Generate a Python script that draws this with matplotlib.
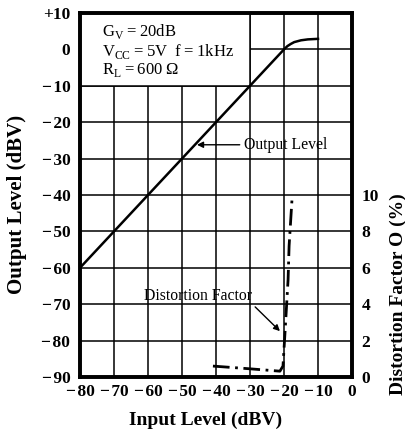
import numpy as np
import matplotlib.pyplot as plt
from matplotlib.patches import Rectangle

plt.rcParams["font.family"] = ["Liberation Serif", "DejaVu Serif"]

# output level curve (dBV)
out_in = [-80, -20, -19, -18, -17, -15, -13, -10]
out_lvl = [-60, 0, 0.9, 1.5, 2.0, 2.5, 2.75, 2.9]

# distortion factor curve (%)
thd_in = [-40.9, -30, -21.2, -20.3, -19.7, -18.8, -18.5, -17.6]
thd_pct = [0.6, 0.45, 0.32, 0.6, 2.46, 5.35, 7.2, 9.9]

x_ticks = [-80, -70, -60, -50, -40, -30, -20, -10, 0]
y_ticks = [10, 0, -10, -20, -30, -40, -50, -60, -70, -80, -90]
r_ticks = [0, 2, 4, 6, 8, 10]


def lab(v):
    if v > 0:
        return f"+{v}"
    if v < 0:
        return f"\u2212\u200a{-v}"
    return "0"


fig = plt.figure(figsize=(4.06, 4.36), dpi=100)
ax = fig.add_axes([80 / 406, 1 - 377 / 436, 272 / 406, 364 / 436])

ax.set_xlim(-80, 0)
ax.set_ylim(-90, 10)
ax.set_xticks(x_ticks)
ax.set_xticklabels([lab(v) for v in x_ticks], fontsize=12.5, fontweight="bold")
ax.set_yticks(y_ticks)
ax.set_yticklabels([lab(v) for v in y_ticks], fontsize=12.5, fontweight="bold")
ax.tick_params(axis="x", length=0, pad=5)
ax.tick_params(axis="y", length=0, pad=7)
ax.grid(True, color="black", linewidth=1.1)
ax.set_axisbelow(True)
for sp in ax.spines.values():
    sp.set_linewidth(2.6)

# blank area for the conditions box
ax.add_patch(Rectangle((-80, -10), 50, 20, facecolor="white", edgecolor="none", zorder=1))
ax.plot([-30, -30], [-10, 10], color="black", linewidth=1.1, zorder=1.2)
ax.plot([-80, -30], [-10, -10], color="black", linewidth=1.1, zorder=1.2)

eq = "\u2009=\u2009"
ax.text(-73.5, 4.8, r"G$_\mathregular{V}$" + eq + "20dB", fontsize=12, va="center")
ax.text(-73.5, -0.5, r"V$_\mathregular{CC}$" + eq + "5V  f" + eq + "1kHz", fontsize=12, va="center")
ax.text(-73.5, -5.6, r"R$_\mathregular{L}$" + eq + "600\u2009\u03a9", fontsize=12, va="center")

ax.plot(out_in, out_lvl, color="black", linewidth=1.8, zorder=3)

ax.set_xlabel("Input Level (dBV)", fontsize=14, fontweight="bold")
ax.xaxis.set_label_coords(0.46, -0.095)
ax.set_ylabel("Output Level (dBV)", fontsize=15, fontweight="bold")
ax.yaxis.set_label_coords(-0.195, 0.474)

ax.annotate("Output Level", xy=(-45.6, -26.2), xytext=(-31.8, -26.2),
            fontsize=11.3, va="center", ha="left",
            arrowprops=dict(arrowstyle="-|>", color="black", lw=1.0,
                            shrinkA=1, shrinkB=0, mutation_scale=9),
            zorder=4)
ax.annotate("Distortion Factor", xy=(-21.2, -77.4), xytext=(-29.3, -67.8),
            fontsize=11.3, va="center", ha="right",
            arrowprops=dict(arrowstyle="-|>", color="black", lw=1.0,
                            shrinkA=0, shrinkB=0, mutation_scale=9,
                            relpos=(1.0, 0.0)),
            zorder=4)

ax2 = ax.twinx()
ax2.set_ylim(0, 20)
ax2.set_yticks(r_ticks)
ax2.set_yticklabels([str(v) for v in r_ticks], fontsize=12.5, fontweight="bold")
ax2.tick_params(length=0, pad=7)
for sp in ax2.spines.values():
    sp.set_linewidth(2.6)
ax2.plot(thd_in, thd_pct, color="black", linewidth=2.0,
         linestyle=(0, (6, 2, 1, 2)), zorder=3)
ax2.set_ylabel("Distortion Factor O (%)", fontsize=14, fontweight="bold")
ax2.yaxis.set_label_coords(1.14, 0.227)

fig.savefig("out.png", dpi=100)
